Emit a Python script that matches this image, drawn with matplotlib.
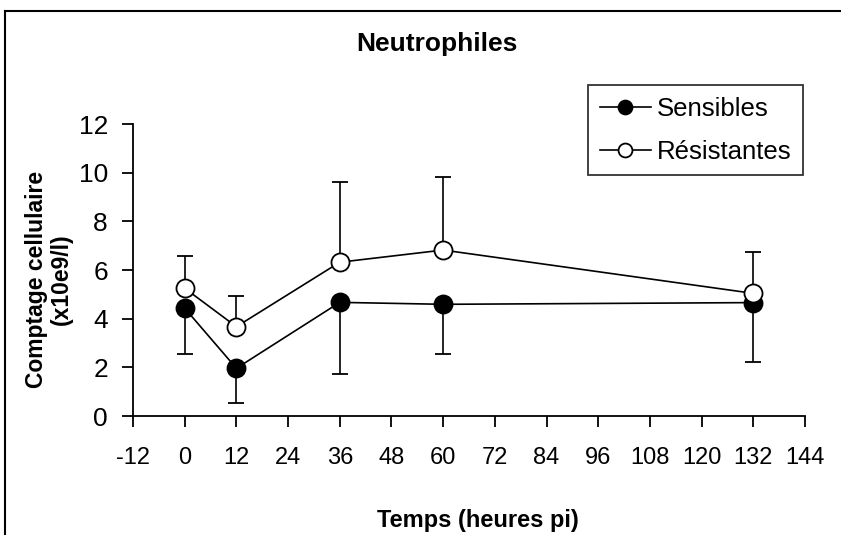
import matplotlib
matplotlib.use("Agg")
import matplotlib.pyplot as plt
from matplotlib.lines import Line2D

plt.rcParams['font.family'] = ['Liberation Sans', 'DejaVu Sans']
plt.rcParams['axes.unicode_minus'] = False

# Data
hours = [0, 12, 36, 60, 132]
sensibles = [4.43, 1.96, 4.67, 4.59, 4.66]
sensibles_err_low = [1.89, 1.41, 2.96, 2.05, 2.45]
resistantes = [5.25, 3.67, 6.32, 6.82, 5.04]
resistantes_err_up = [1.31, 1.26, 3.28, 3.02, 1.69]
xticks = [-12, 0, 12, 24, 36, 48, 60, 72, 84, 96, 108, 120, 132, 144]
yticks = [0, 2, 4, 6, 8, 10, 12]

W, H = 841, 535
fig = plt.figure(figsize=(W / 100, H / 100), dpi=100)
ax = fig.add_axes([133 / W, 1 - 416 / H, (805 - 133) / W, (416 - 124) / H])

zeros = [0] * len(hours)
ax.errorbar(hours, sensibles, yerr=[sensibles_err_low, zeros], fmt='-o',
            color='black', mfc='black', mec='black', ms=13, mew=1.3,
            lw=1.2, elinewidth=1.2, capsize=6, capthick=1.2,
            label='Sensibles', zorder=3)
ax.errorbar(hours, resistantes, yerr=[zeros, resistantes_err_up], fmt='-o',
            color='black', mfc='white', mec='black', ms=13, mew=1.3,
            lw=1.2, elinewidth=1.2, capsize=6, capthick=1.2,
            label='Résistantes', zorder=4)

ax.set_xlim(-12, 144)
ax.set_ylim(0, 12)
ax.set_xticks(xticks)
ax.set_yticks(yticks)
ax.tick_params(axis='y', labelsize=19, direction='out', length=8, width=1.3, pad=10)
ax.tick_params(axis='x', labelsize=17, direction='out', length=8, width=1.3, pad=14)
for s in ['top', 'right']:
    ax.spines[s].set_visible(False)
for s in ['left', 'bottom']:
    ax.spines[s].set_linewidth(1.3)

handles = [
    Line2D([], [], color='black', marker='o', mfc='black', mec='black', ms=10, mew=1.3, lw=1.2),
    Line2D([], [], color='black', marker='o', mfc='white', mec='black', ms=10, mew=1.3, lw=1.2),
]
leg = fig.legend(handles, ['Sensibles', 'Résistantes'], loc='upper right',
                 bbox_to_anchor=(803 / W, 1 - 85 / H), fontsize=18.5,
                 frameon=True, fancybox=False, edgecolor='black',
                 handlelength=2.0, handletextpad=0.23, borderpad=0.45,
                 labelspacing=0.75, borderaxespad=0)
leg.get_frame().set_linewidth(1.3)

fig.text(437 / W, 1 - 44 / H, 'Neutrophiles', ha='center', va='center',
         fontsize=19, fontweight='bold')
fig.text(478 / W, 1 - 520 / H, 'Temps (heures pi)', ha='center', va='center',
         fontsize=17, fontweight='bold')
fig.text(49 / W, 1 - 279 / H, 'Comptage cellulaire\n(x10e9/l)', ha='center',
         va='center', rotation=90, fontsize=16.5, fontweight='bold',
         multialignment='center', linespacing=1.1)

# figure frame (top and left edges visible)
fig.add_artist(Line2D([5 / W, 5 / W], [0, 1 - 11 / H], color='black', lw=1.5,
                      transform=fig.transFigure))
fig.add_artist(Line2D([5 / W, 1], [1 - 11 / H, 1 - 11 / H], color='black', lw=1.5,
                      transform=fig.transFigure))

fig.savefig('out.png', dpi=100)
